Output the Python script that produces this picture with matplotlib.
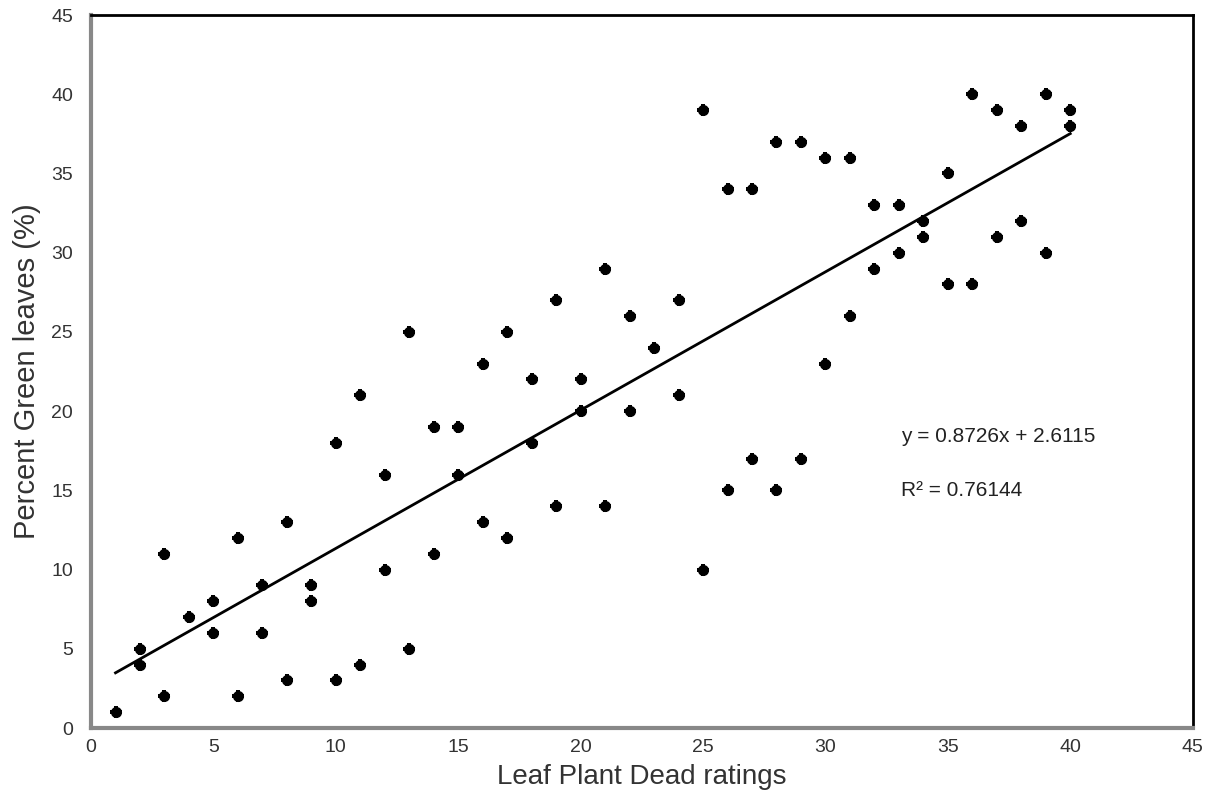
import numpy as np
import matplotlib
matplotlib.use('Agg')
import matplotlib.pyplot as plt

plt.rcParams['font.family'] = ['Liberation Sans', 'DejaVu Sans']

# Leaf plant dead ratings vs percent green leaves
ratings = [1, 2, 2, 3, 3, 4, 5, 5, 6, 6, 7, 7, 8, 8, 9, 9, 10, 10, 11, 11,
           12, 12, 13, 13, 14, 14, 15, 15, 16, 16, 17, 17, 18, 18, 19, 19,
           20, 20, 21, 21, 22, 22, 23, 24, 24, 25, 25, 26, 26, 27, 27, 28, 28,
           29, 29, 30, 30, 31, 31, 32, 32, 33, 33, 34, 34, 35, 35, 36, 36,
           37, 37, 38, 38, 39, 39, 40, 40]
green = [1, 5, 4, 11, 2, 7, 8, 6, 12, 2, 9, 6, 13, 3, 9, 8, 18, 3, 21, 4,
         16, 10, 25, 5, 19, 11, 19, 16, 23, 13, 25, 12, 22, 18, 27, 14,
         22, 20, 29, 14, 26, 20, 24, 27, 21, 39, 10, 34, 15, 34, 17, 37, 15,
         37, 17, 36, 23, 36, 26, 33, 29, 33, 30, 32, 31, 35, 28, 40, 28,
         39, 31, 38, 32, 40, 30, 39, 38]

slope = 0.8726
intercept = 2.6115
r2 = 0.76144

fig = plt.figure(figsize=(12.17, 8.11), dpi=100)
ax = fig.add_axes([0.0748, 0.1023, 0.9052, 0.8792])

ax.plot(ratings, green, 'o', color='black', markersize=8, markeredgewidth=0)
ax.plot(ratings, green, 'P', color='black', markersize=9, markeredgewidth=0)

xl = np.array([min(ratings), max(ratings)])
ax.plot(xl, slope * xl + intercept, '-', color='black', linewidth=2)

ax.text(33.1, 18.4, 'y = %.4fx + %.4f' % (slope, intercept), fontsize=15,
        va='center', color='#222222')
ax.text(33.1, 15.0, 'R² = %.5f' % r2, fontsize=15, va='center', color='#222222')

ax.set_xlim(0, 45)
ax.set_ylim(0, 45)
ax.set_xticks(range(0, 46, 5))
ax.set_yticks(range(0, 46, 5))
ax.tick_params(length=0, labelsize=14, labelcolor='#333333')
ax.tick_params(axis='y', pad=13)
ax.tick_params(axis='x', pad=8)

ax.set_xlabel('Leaf Plant Dead ratings', fontsize=20, color='#333333', labelpad=6)
ax.set_ylabel('Percent Green leaves (%)', fontsize=21, color='#333333', labelpad=7)

for s in ['top', 'right']:
    ax.spines[s].set_color('black')
    ax.spines[s].set_linewidth(2)
for s in ['left', 'bottom']:
    ax.spines[s].set_color('#888888')
    ax.spines[s].set_linewidth(3)

fig.savefig('out.png', dpi=100)
